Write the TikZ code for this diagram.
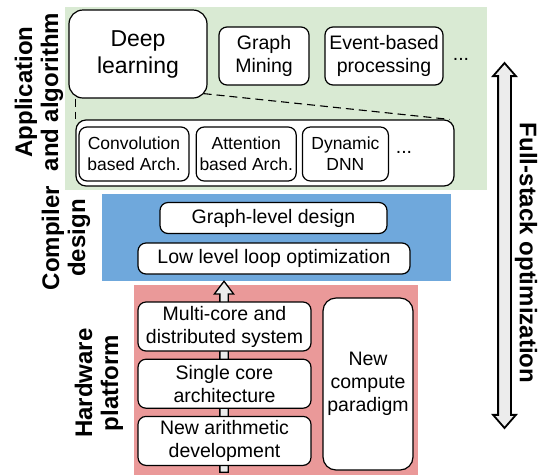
\documentclass[tikz,border=0pt]{standalone}
\usepackage{fontspec}
\setmainfont{Liberation Sans}
\usetikzlibrary{positioning,shapes.arrows}
\definecolor{appgreen}{RGB}{217,234,211}
\definecolor{compblue}{RGB}{111,168,220}
\definecolor{hwred}{RGB}{234,153,153}
\definecolor{arrgray}{RGB}{236,236,236}
\tikzset{
  bx/.style={rectangle, rounded corners=8pt, draw=black, fill=white, line width=1.2pt, align=center, inner sep=0pt, font=\fontsize{19.5}{23}\selectfont},
  bxs/.style={bx, font=\fontsize{17.5}{21}\selectfont},
  bxl/.style={bx, rounded corners=14pt, font=\fontsize{23}{27}\selectfont},
  lyr/.style={rectangle, draw=none, inner sep=0pt},
  lb/.style={align=center, inner sep=0pt, font=\bfseries\fontsize{24}{26}\selectfont},
  etc/.style={inner sep=0pt, font=\fontsize{19.5}{23}\selectfont},
  fat/.style={draw=black, fill=arrgray, inner xsep=0pt},
  node distance=7pt
}

\begin{document}
\begin{tikzpicture}[x=1pt, y=-1pt]
	\useasboundingbox (0,0) rectangle (540,475);
	\node[lyr, fill=appgreen, minimum width=422pt, minimum height=183pt] (app) at (276,98.5) {};
	\node[lyr, fill=compblue, minimum width=349pt, minimum height=87pt] (comp) at (276.5,237.5) {};
	\node[lyr, fill=hwred, minimum width=284pt, minimum height=190pt] (hw) at (276,380) {};
	\node[fat, single arrow, rotate=90, line width=1.3pt, inner ysep=3.5pt, single arrow head extend=5.5pt, single arrow tip angle=74, minimum height=191pt] (up) at (224,379.5) {};

	\node[bxl, minimum width=138pt, minimum height=88pt] (dl) at (138,54) {Deep\\learning};
	\node[bx, minimum width=90pt, minimum height=58pt] (gm) at (264,56) {Graph\\Mining};
	\node[bx, minimum width=118pt, minimum height=58pt] (ev) at (384,56) {Event-based\\processing};
	\node[etc] (etc1) at (461,59) {...};
	\node[bx, rounded corners=10pt, minimum width=378pt, minimum height=66pt] (arch) at (265,153) {};
	\node[bxs, minimum width=110pt, minimum height=54pt] (conv) at (134,154) {Convolution\\based Arch.};
	\node[bxs, minimum width=100pt, minimum height=54pt, right=6pt of conv] (att) {Attention\\based Arch.};
	\node[bxs, minimum width=86pt, minimum height=54pt, right=5pt of att] (dyn) {Dynamic\\DNN};
	\node[etc] (etc2) at (404,152) {...};
	\draw[line width=1.1pt, dash pattern=on 8pt off 5pt] ([xshift=7pt]dl.south west) -- (arch.north west);
	\draw[line width=1.1pt, dash pattern=on 8pt off 5pt] ([shift={(-4,-5)}]dl.south east) -- ([xshift=-5pt]arch.north east);

	\node[bx, minimum width=227pt, minimum height=31pt] (gl) at (273.5,218) {Graph-level design};
	\node[bx, minimum width=272pt, minimum height=31pt] (ll) at (274,258.5) {Low level loop optimization};

	\node[bx, minimum width=173pt, minimum height=49pt] (mc) at (224.5,326.5) {Multi-core and\\distributed system};
	\node[bx, minimum width=173pt, minimum height=49pt, below=of mc] (sc) {Single core\\architecture};
	\node[bx, minimum width=173pt, minimum height=49pt, below=of sc] (na) {New arithmetic\\development};
	\node[bx, rounded corners=13pt, minimum width=90pt, minimum height=172pt] (ncp) at (368,384) {New\\compute\\paradigm};

	\node[lb, rotate=90] (lapp) at (39,92) {Application\\and algorithm};
	\node[lb, rotate=90] (lcomp) at (66,238) {Compiler\\design};
	\node[lb, rotate=90] (lhw) at (99,383) {Hardware\\platform};
	\node[fat, double arrow, rotate=90, line width=1.8pt, inner ysep=5.5pt, double arrow head extend=5pt, double arrow tip angle=82, minimum height=365pt] (fs) at (504.5,245.5) {};
	\node[lb, rotate=-90] (lfs) at (526,253) {Full-stack optimization};
\end{tikzpicture}
\end{document}
